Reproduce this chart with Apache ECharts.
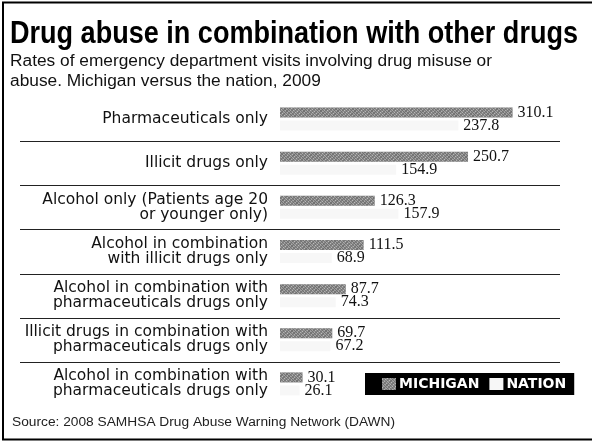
<!DOCTYPE html>
<html>
<head>
<meta charset="utf-8">
<script src="https://cdn.jsdelivr.net/npm/echarts@6/dist/echarts.min.js"></script>
<style>
html,body{margin:0;padding:0;background:#fff;}
#main{width:592px;height:444px;}
</style>
</head>
<body>
<div id="main"></div>
<script>
var categories = [
  "Pharmaceuticals only",
  "Illicit drugs only",
  "Alcohol only (Patients age 20\nor younger only)",
  "Alcohol in combination\nwith illicit drugs only",
  "Alcohol in combination with\npharmaceuticals drugs only",
  "Illicit drugs in combination with\npharmaceuticals drugs only",
  "Alcohol in combination with\npharmaceuticals drugs only"
];
var michigan = [310.1, 250.7, 126.3, 111.5, 87.7, 69.7, 30.1];
var nation = [237.8, 154.9, 157.9, 68.9, 74.3, 67.2, 26.1];
var seriesNames = ["MICHIGAN", "NATION"];
var titleText = "Drug abuse in combination with other drugs";
var subtitleLines = ["Rates of emergency department visits involving drug misuse or", "abuse. Michigan versus the nation, 2009"];
var sourceText = "Source: 2008 SAMHSA Drug Abuse Warning Network (DAWN)";

var chart = echarts.init(document.getElementById('main'), null, {renderer: 'canvas'});

function measure(text, font) {
  var c = document.createElement('canvas').getContext('2d');
  c.font = font;
  return c.measureText(text).width;
}

var titleFont = 'bold 32px "Liberation Sans"';
var subFont = '16px "Liberation Sans"';
var srcFont = '12px "Liberation Sans"';
var titleScale = 568 / measure(titleText, titleFont);
var subScale = 482 / measure(subtitleLines[0], subFont);
var srcScale = 383 / measure(sourceText, srcFont);

var valueLabel = {
  show: true,
  position: 'right',
  distance: 5,
  fontFamily: '"Liberation Serif"',
  fontSize: 16,
  color: '#111'
};

chart.setOption({
  animation: false,
  aria: {enabled: true, decal: {show: true}},
  grid: {left: 280, top: 97, width: 300, height: 309, containLabel: false},
  xAxis: {
    type: 'value', min: 0, max: 400, show: false
  },
  yAxis: {
    type: 'category',
    data: categories,
    inverse: true,
    axisLine: {show: false},
    axisTick: {show: false},
    splitLine: {show: false},
    axisLabel: {
      margin: 12,
      fontFamily: '"DejaVu Sans"',
      fontSize: 15.5,
      lineHeight: 15,
      color: '#111',
      align: 'right'
    }
  },
  legend: {
    data: seriesNames,
    left: 365,
    top: 373,
    orient: 'horizontal',
    backgroundColor: '#000',
    padding: [4, 8, 4, 17],
    itemGap: 10,
    itemWidth: 14,
    itemHeight: 12,
    icon: 'rect',
    textStyle: {color: '#fff', fontWeight: 'bold', fontSize: 14, fontFamily: '"DejaVu Sans"', padding: [0, 0, 0, -2]}
  },
  series: [
    {
      name: seriesNames[0],
      type: 'bar',
      data: michigan,
      barWidth: 10,
      barGap: '30%',
      itemStyle: {
        color: '#6f6f6f',
        decal: {
          symbol: 'rect',
          symbolSize: 1,
          dashArrayX: [2, 1],
          dashArrayY: [1, 1],
          rotation: Math.PI / 4,
          color: 'rgba(255,255,255,0.55)'
        }
      },
      label: valueLabel
    },
    {
      name: seriesNames[1],
      type: 'bar',
      data: nation,
      barWidth: 10,
      itemStyle: {
        color: '#f7f7f7',
        decal: {symbol: 'none'}
      },
      label: valueLabel
    }
  ]
});

// Separator lines between categories, derived from the axis scale
var graphics = [];
for (var i = 0; i < categories.length - 1; i++) {
  var y1 = chart.convertToPixel({yAxisIndex: 0}, i);
  var y2 = chart.convertToPixel({yAxisIndex: 0}, i + 1);
  var yb = Math.round((y1 + y2) / 2) + 0.5;
  graphics.push({
    type: 'line', silent: true,
    shape: {x1: 20, y1: yb, x2: 560, y2: yb},
    style: {stroke: '#222', lineWidth: 1}
  });
}
// frame
graphics.push({type: 'line', silent: true, shape: {x1: 3, y1: 2, x2: 3, y2: 440}, style: {stroke: '#000', lineWidth: 2}});
graphics.push({type: 'line', silent: true, shape: {x1: 2, y1: 2.5, x2: 592, y2: 2.5}, style: {stroke: '#000', lineWidth: 2}});
graphics.push({type: 'line', silent: true, shape: {x1: 2, y1: 439.5, x2: 592, y2: 439.5}, style: {stroke: '#000', lineWidth: 2}});
// title
graphics.push({
  type: 'text', silent: true, x: 10, y: 18, scaleX: titleScale,
  style: {text: titleText, font: titleFont, fill: '#000', verticalAlign: 'top'}
});
graphics.push({
  type: 'text', silent: true, x: 10, y: 52, scaleX: subScale,
  style: {text: subtitleLines.join('\n'), font: subFont, lineHeight: 20, fill: '#111', verticalAlign: 'top'}
});
graphics.push({
  type: 'text', silent: true, x: 12, y: 423, scaleX: srcScale,
  style: {text: sourceText, font: srcFont, fill: '#222', verticalAlign: 'middle'}
});
chart.setOption({graphic: graphics});
</script>
</body>
</html>
